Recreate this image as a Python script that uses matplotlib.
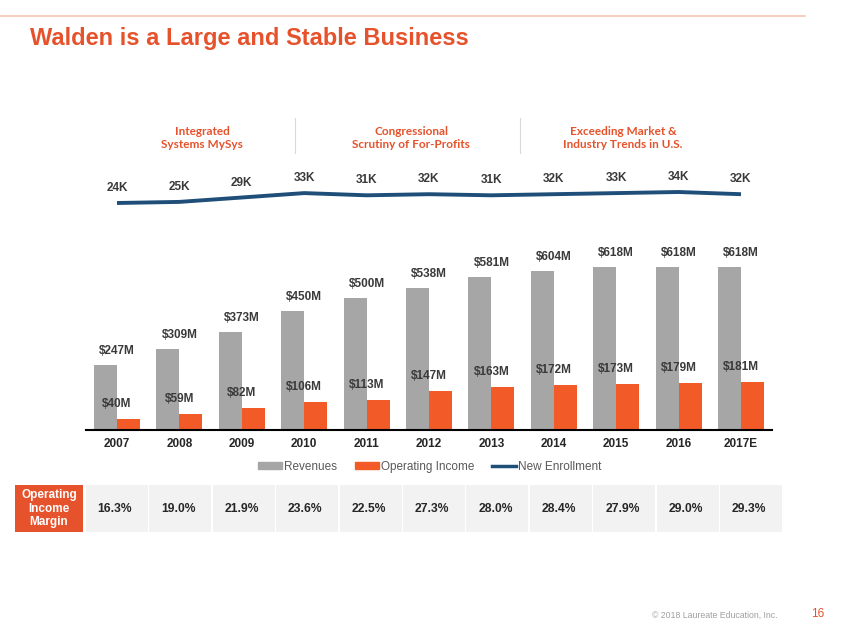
import matplotlib.pyplot as plt
from matplotlib.patches import Patch, Rectangle
from matplotlib.lines import Line2D

plt.rcParams['font.family'] = ['Liberation Sans', 'DejaVu Sans']

# data
years = ['2007', '2008', '2009', '2010', '2011', '2012', '2013', '2014', '2015', '2016', '2017E']
revenues = [247, 309, 373, 450, 500, 538, 581, 604, 618, 618, 618]
op_income = [40, 59, 82, 106, 113, 147, 163, 172, 173, 179, 181]
enrollment = [24, 25, 29, 33, 31, 32, 31, 32, 33, 34, 32]
margins = ['16.3%', '19.0%', '21.9%', '23.6%', '22.5%', '27.3%', '28.0%', '28.4%', '27.9%', '29.0%', '29.3%']
phases = ['Integrated\nSystems MySys', 'Congressional\nScrutiny of For-Profits',
          'Exceeding Market &\nIndustry Trends in U.S.']

GREY = '#A6A6A6'
ORANGE = '#F25A28'
TITLE_RED = '#E5522B'
NAVY = '#1F4E79'
TXT = '#3A3A3A'

W, H = 847, 635
fig = plt.figure(figsize=(W / 100, H / 100), dpi=100)


def box(x0, y0, x1, y1):
    # pixel box (top-left origin) -> figure fraction rect
    return [x0 / W, 1 - y1 / H, (x1 - x0) / W, (y1 - y0) / H]


def fx(x):
    return x / W


def fy(y):
    return 1 - y / H


# header decoration
fig.add_artist(Line2D([0, fx(805)], [fy(16), fy(16)], color='#F6C4AE', lw=1.2))
fig.text(fx(30), fy(38), 'Walden is a Large and Stable Business', color=TITLE_RED,
         fontsize=17, fontweight='bold', va='center', ha='left')

# phase headings
for cx, txt in zip([202, 411, 623], phases):
    fig.text(fx(cx), fy(138), txt, color=TITLE_RED, fontsize=8.5, fontweight='bold',
             family=['Lato', 'DejaVu Sans'], ha='center', va='center', linespacing=1.3)
for dx in [295, 520]:
    fig.add_artist(Line2D([fx(dx), fx(dx)], [fy(118), fy(153)], color='#D9D9D9', lw=0.8))

x = list(range(len(years)))
bw = 0.37

# bars
ax = fig.add_axes(box(85.8, 240, 772.2, 430))
px_per_m = 163 / 618
ax.set_ylim(0, 190 / px_per_m)
ax.set_xlim(-0.5, len(years) - 0.5)
ax.bar([i - bw / 2 for i in x], revenues, width=bw, color=GREY)
ax.bar([i + bw / 2 for i in x], op_income, width=bw, color=ORANGE)
for i, (r, o) in enumerate(zip(revenues, op_income)):
    ax.annotate(f'${r}M', (i, r), xytext=(0, 10), textcoords='offset points',
                ha='center', va='center', fontsize=8.5, fontweight='bold', color=TXT)
    ax.annotate(f'${o}M', (i, o), xytext=(0, 10.8), textcoords='offset points',
                ha='center', va='center', fontsize=8.5, fontweight='bold', color=TXT)
for s in ['top', 'right', 'left']:
    ax.spines[s].set_visible(False)
ax.spines['bottom'].set_linewidth(1.5)
ax.set_yticks([])
ax.set_xticks(x)
ax.set_xticklabels(years, fontsize=8.5, fontweight='bold', color='#262626')
ax.tick_params(axis='x', length=0, pad=6)
ax.patch.set_alpha(0)

# enrollment line
lax = fig.add_axes(box(85.8, 150, 772.2, 230))
px_per_k = 1.1
lax.set_ylim(24 - 27 / px_per_k, 24 + 53 / px_per_k)
lax.set_xlim(-0.5, len(years) - 0.5)
lax.plot(x, enrollment, color=NAVY, lw=2.8, solid_capstyle='butt')
for i, e in enumerate(enrollment):
    lax.annotate(f'{e}K', (i, e), xytext=(0, 10.7), textcoords='offset points',
                 ha='center', va='center', fontsize=8.5, fontweight='bold', color=TXT)
lax.axis('off')

# legend
handles = [Patch(color=GREY), Patch(color=ORANGE), Line2D([], [], color=NAVY, lw=2.5)]
fig.legend(handles, ['Revenues', 'Operating Income', 'New Enrollment'], loc='center',
           bbox_to_anchor=(fx(430), fy(467)), ncol=3, frameon=False, fontsize=8.5,
           handlelength=2.0, handleheight=0.5, handletextpad=0.2, columnspacing=1.5,
           labelcolor='#595959')

# margin table
fig.add_artist(Rectangle((fx(15), fy(532)), fx(83) - fx(15), fy(485) - fy(532),
                         transform=fig.transFigure, color=TITLE_RED, lw=0))
fig.text(fx(49), fy(508.5), 'Operating\nIncome\nMargin', color='white', fontsize=8.5,
         fontweight='bold', ha='center', va='center', linespacing=1.2)
tax = fig.add_axes(box(85, 485, 783, 532))
tax.set_xlim(0, len(margins))
tax.set_ylim(0, 1)
tax.axis('off')
for i, m in enumerate(margins):
    tax.add_patch(Rectangle((i + 0.012, 0), 0.976, 1, color='#F2F2F2', lw=0))
    tax.text(i + 0.47, 0.5, m, ha='center', va='center', fontsize=8.7,
             fontweight='bold', color='#262626')

# footer
fig.text(fx(715), fy(615), '\u00a9 2018 Laureate Education, Inc.', color='#A0A0A0',
         fontsize=6.3, ha='center', va='center')
fig.text(fx(818), fy(614), '16', color=TITLE_RED, fontsize=8.5, ha='center', va='center')

fig.savefig('out.png', dpi=100)
